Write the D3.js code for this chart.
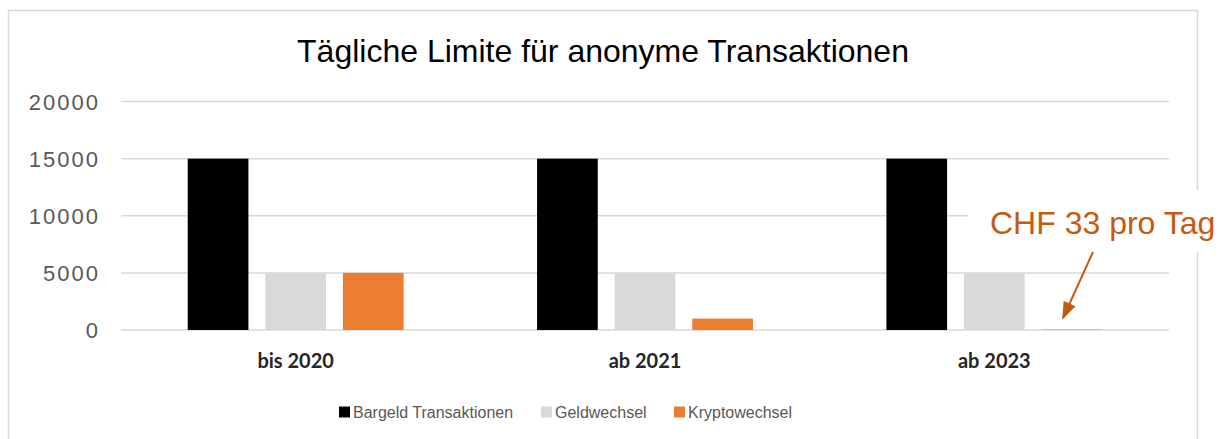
<!DOCTYPE html>
<html>
<head>
<meta charset="utf-8">
<script src="https://cdn.jsdelivr.net/npm/d3@7"></script>
<style>
  body { margin: 0; background: #fff; }
  svg { display: block; }
</style>
</head>
<body>
<svg id="chart" width="1221" height="439"></svg>
<script>
// Tägliche Limite für anonyme Transaktionen

const categories = ["bis 2020", "ab 2021", "ab 2023"];
const seriesNames = ["Bargeld Transaktionen", "Geldwechsel", "Kryptowechsel"];
const bargeld = [15000, 15000, 15000];
const geldwechsel = [5000, 5000, 5000];
const krypto = [5000, 1000, 33];
const yTicks = [0, 5000, 10000, 15000, 20000];
const colors = ["#000000", "#d9d9d9", "#ed7d31"];
const annotationText = "CHF 33 pro Tag";

const data = categories.map((c, i) => ({
  cat: c,
  values: [bargeld[i], geldwechsel[i], krypto[i]]
}));

const svg = d3.select("#chart");
const W = +svg.attr("width");

// --- Rahmen ---
svg.append("rect")
  .attr("x", 8.5)
  .attr("y", 10.5)
  .attr("width", 1189)
  .attr("height", 440)
  .attr("fill", "none")
  .attr("stroke", "#d9d9d9")
  .attr("stroke-width", 1.5);

const plot = { left: 121, right: 1169, top: 101.5, bottom: 330 };

const x = d3.scaleBand()
  .domain(categories)
  .range([plot.left, plot.right])
  .paddingInner(0.382)
  .paddingOuter(0.191);

const xSub = d3.scaleBand()
  .domain(seriesNames)
  .range([0, x.bandwidth()])
  .paddingInner(0.218);

const y = d3.scaleLinear()
  .domain([0, 20000])
  .range([plot.bottom, plot.top]);

// --- Gitterlinien ---
svg.append("g")
  .selectAll("line")
  .data(yTicks)
  .enter()
  .append("line")
  .attr("x1", plot.left)
  .attr("x2", plot.right)
  .attr("y1", d => y(d))
  .attr("y2", d => y(d))
  .attr("stroke", "#d9d9d9")
  .attr("stroke-width", 1.5);

// --- Y-Achse (Beschriftung) ---
const yAxis = svg.append("g")
  .attr("transform", "translate(100,0)")
  .call(d3.axisLeft(y).tickValues(yTicks).tickSize(0).tickPadding(0).tickFormat(d3.format("d")));
yAxis.select(".domain").remove();
yAxis.selectAll("text")
  .attr("dy", "0.36em")
  .style("font-family", "'Liberation Sans', Arial, sans-serif")
  .style("font-size", "22px")
  .style("letter-spacing", "2px")
  .attr("fill", "#595959");

// --- Balken ---
const groups = svg.append("g")
  .selectAll("g")
  .data(data)
  .enter()
  .append("g")
  .attr("transform", d => `translate(${x(d.cat)},0)`);

groups.selectAll("rect")
  .data(d => d.values.map((v, i) => ({ name: seriesNames[i], value: v, color: colors[i] })))
  .enter()
  .append("rect")
  .attr("x", d => xSub(d.name))
  .attr("y", d => y(d.value))
  .attr("width", xSub.bandwidth())
  .attr("height", d => plot.bottom - y(d.value))
  .attr("fill", d => d.color);

// --- X-Achse (Kategorien) ---
const xAxis = svg.append("g")
  .attr("transform", `translate(0,${plot.bottom})`)
  .call(d3.axisBottom(x).tickSize(0).tickPadding(0));
xAxis.select(".domain").remove();
xAxis.selectAll("text")
  .attr("y", 38)
  .attr("dy", 0)
  .style("font-family", "Lato, 'Open Sans', sans-serif")
  .style("font-weight", "bold")
  .style("font-size", "20px")
  .attr("fill", "#262626");

// --- Titel ---
svg.append("text")
  .attr("x", 603)
  .attr("y", 62)
  .attr("text-anchor", "middle")
  .style("font-family", "'Liberation Sans', Arial, sans-serif")
  .style("font-size", "32px")
  .attr("fill", "#000")
  .text("Tägliche Limite für anonyme Transaktionen");

// --- Legende ---
const legendX = [339, 541, 674];
const legend = svg.append("g")
  .selectAll("g")
  .data(seriesNames)
  .enter()
  .append("g")
  .attr("transform", (d, i) => `translate(${legendX[i]},406.5)`);
legend.append("rect")
  .attr("width", 11)
  .attr("height", 11)
  .attr("fill", (d, i) => colors[i]);
legend.append("text")
  .attr("x", 14)
  .attr("y", 11)
  .style("font-family", "'Liberation Sans', Arial, sans-serif")
  .style("font-size", "16px")
  .attr("fill", "#595959")
  .text(d => d);

// --- Anmerkung ---
svg.append("defs")
  .append("marker")
  .attr("id", "arrow")
  .attr("viewBox", "0 0 18 13")
  .attr("refX", 16)
  .attr("refY", 6.5)
  .attr("markerWidth", 18)
  .attr("markerHeight", 13)
  .attr("markerUnits", "userSpaceOnUse")
  .attr("orient", "auto")
  .append("path")
  .attr("d", "M0,0 L18,6.5 L0,13 Z")
  .attr("fill", "#c55a11");

svg.append("rect")
  .attr("x", 968)
  .attr("y", 190)
  .attr("width", W - 968)
  .attr("height", 62)
  .attr("fill", "#fff");

svg.append("text")
  .attr("x", 990)
  .attr("y", 234)
  .style("font-family", "'Liberation Sans', Arial, sans-serif")
  .style("font-size", "32px")
  .attr("fill", "#c55a11")
  .text(annotationText);

svg.append("line")
  .attr("x1", 1093)
  .attr("y1", 252)
  .attr("x2", 1063)
  .attr("y2", 318)
  .attr("stroke", "#c55a11")
  .attr("stroke-width", 2)
  .attr("marker-end", "url(#arrow)");
</script>
</body>
</html>
